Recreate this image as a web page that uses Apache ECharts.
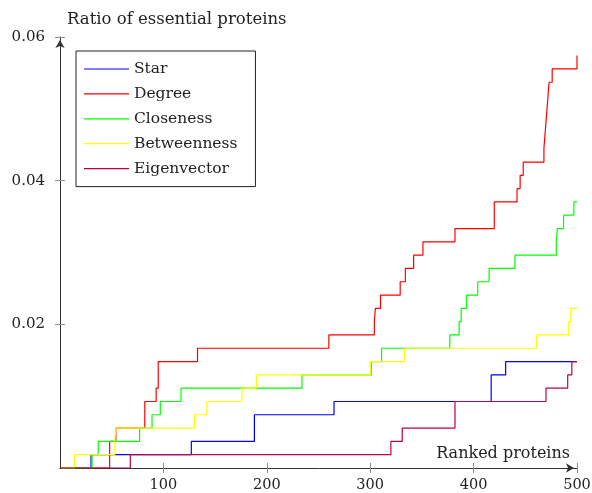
<!DOCTYPE html>
<html>
<head>
<meta charset="utf-8">
<script src="https://cdn.jsdelivr.net/npm/echarts@6/dist/echarts.min.js"></script>
<style>
  html, body { margin: 0; padding: 0; background: #fff; }
  #chart { width: 592px; height: 493px; }
</style>
</head>
<body>
<div id="chart"></div>
<script>
const SERIF = '"DejaVu Serif", "Liberation Serif", serif';

// x ticks / y ticks
const xTicks = [100, 200, 300, 400, 500];
const yTicks = [0.02, 0.04, 0.06];

// each curve: rank where a new level starts, and that level (ratio)
const starX = [1, 30, 127, 188, 265, 417, 431, 500];
const starY = [0, 0.00185, 0.0037, 0.00741, 0.00926, 0.01296, 0.01481, 0.01481];

const degreeX = [1, 48, 54, 82, 93, 95, 133, 260, 304, 305, 310, 329, 334, 342, 351, 382, 420, 442, 445, 448,
  468, 469, 470, 471, 472, 473, 476, 500];
const degreeY = [0, 0.0037, 0.00556, 0.00926, 0.01111, 0.01481, 0.01667, 0.01852, 0.02037, 0.02222, 0.02407,
  0.02593, 0.02778, 0.02963, 0.03148, 0.03333, 0.03704, 0.03889, 0.04074, 0.04259,
  0.04444, 0.0463, 0.04815, 0.05, 0.05185, 0.0537, 0.05556, 0.05741];

const closenessX = [1, 31, 37, 77, 89, 97, 117, 234, 301, 311, 377, 386, 388, 393, 404, 415, 440, 480, 481, 487, 497, 500];
const closenessY = [0, 0.00185, 0.0037, 0.00556, 0.00741, 0.00926, 0.01111, 0.01296, 0.01481, 0.01667, 0.01852,
  0.02037, 0.02222, 0.02407, 0.02593, 0.02778, 0.02963, 0.03148, 0.03333, 0.03519, 0.03704, 0.03704];

const betweennessX = [1, 14, 53, 54, 130, 142, 176, 190, 300, 333, 461, 492, 494, 500];
const betweennessY = [0, 0.00185, 0.0037, 0.00556, 0.00741, 0.00926, 0.01111, 0.01296, 0.01481, 0.01667,
  0.01852, 0.02037, 0.02222, 0.02222];

const eigenX = [1, 68, 320, 331, 382, 470, 491, 495, 500];
const eigenY = [0, 0.00185, 0.0037, 0.00556, 0.00926, 0.01111, 0.01296, 0.01481, 0.01481];

const curves = [
  { name: "Star", x: starX, y: starY, color: "#0000ff" },
  { name: "Degree", x: degreeX, y: degreeY, color: "#ff0000" },
  { name: "Closeness", x: closenessX, y: closenessY, color: "#00ff00" },
  { name: "Betweenness", x: betweennessX, y: betweennessY, color: "#ffff00" },
  { name: "Eigenvector", x: eigenX, y: eigenY, color: "#bf0040" },
];

const chart = echarts.init(document.getElementById("chart"), null, { renderer: "canvas" });

const tickStyle = { color: "#8c8c8c", width: 1 };

chart.setOption({
  backgroundColor: "#fff",
  animation: false,
  grid: { left: 60, right: 15, top: 37, bottom: 25, containLabel: false, outerBoundsMode: "none" },
  legend: {
    orient: "vertical",
    left: 76,
    top: 51,
    padding: [10, 18, 10, 8],
    icon: "rect",
    itemWidth: 45,
    itemHeight: 1.2,
    itemGap: 8.9,
    backgroundColor: "#fff",
    borderColor: "#222",
    borderWidth: 1,
    borderRadius: 0,
    textStyle: { fontFamily: SERIF, fontSize: 15.5, lineHeight: 14, color: "#222" },
    data: curves.map((c) => c.name),
  },
  xAxis: [
    {
      type: "value",
      min: 0,
      max: 500,
      interval: 100,
      position: "bottom",
      name: "Ranked proteins",
      nameLocation: "end",
      nameGap: -7,
      nameTextStyle: {
        fontFamily: SERIF, fontSize: 16, color: "#222",
        align: "right", verticalAlign: "bottom", padding: [0, 0, 6, 0],
      },
      axisLine: { show: true, symbol: ["none", "arrow"], symbolSize: [7, 8], symbolOffset: [0, -3],
        lineStyle: { color: "#333", width: 1 } },
      axisTick: { show: true, length: 5, customValues: xTicks, lineStyle: tickStyle },
      axisLabel: { customValues: xTicks, margin: 10, fontFamily: SERIF, fontSize: 14.5, color: "#222" },
      splitLine: { show: false },
    },
    {
      type: "value",
      min: 0,
      max: 500,
      interval: 100,
      position: "bottom",
      axisLine: { show: false },
      axisTick: { show: true, inside: true, length: 5, customValues: xTicks, lineStyle: tickStyle },
      axisLabel: { show: false },
      splitLine: { show: false },
    },
  ],
  yAxis: [
    {
      type: "value",
      min: 0,
      max: 0.06,
      interval: 0.02,
      position: "left",
      name: "Ratio of essential proteins",
      nameLocation: "end",
      nameGap: 9,
      nameTextStyle: { fontFamily: SERIF, fontSize: 16.5, color: "#222", align: "left", padding: [0, 0, 0, 7] },
      axisLine: { show: true, symbol: ["none", "arrow"], symbolSize: [7, 8], symbolOffset: [0, -3],
        lineStyle: { color: "#333", width: 1 } },
      axisTick: { show: true, length: 5, customValues: yTicks, lineStyle: tickStyle },
      axisLabel: { customValues: yTicks, margin: 15, fontFamily: SERIF, fontSize: 15, color: "#222",
        formatter: (v) => v.toFixed(2) },
      splitLine: { show: false },
    },
    {
      type: "value",
      min: 0,
      max: 0.06,
      interval: 0.02,
      position: "left",
      axisLine: { show: false },
      axisTick: { show: true, inside: true, length: 5, customValues: yTicks, lineStyle: tickStyle },
      axisLabel: { show: false },
      splitLine: { show: false },
    },
  ],
  series: curves.map((c) => ({
    name: c.name,
    type: "line",
    step: "end",
    xAxisIndex: 0,
    yAxisIndex: 0,
    showSymbol: false,
    symbol: "none",
    color: c.color,
    lineStyle: { color: c.color, width: 1.2 },
    data: c.x.map((x, i) => [x, c.y[i]]),
  })),
});
</script>
</body>
</html>
